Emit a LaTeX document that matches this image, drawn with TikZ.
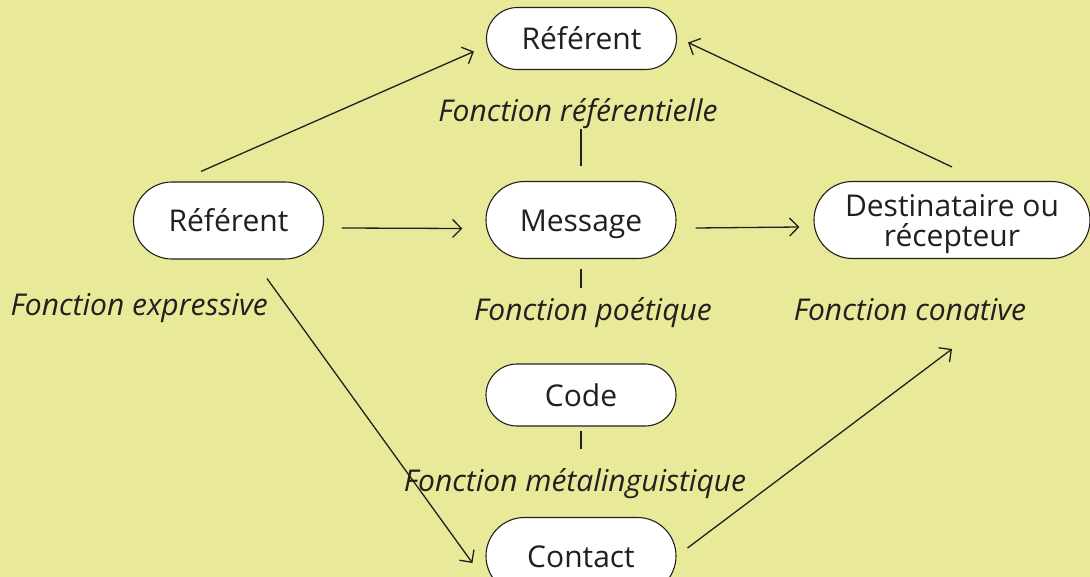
\documentclass[tikz,border=0pt]{standalone}
\usepackage{fontspec}
\setmainfont{Open Sans}
\usepackage{tikz}
\usetikzlibrary{shapes.misc,arrows.meta}
\definecolor{fond}{RGB}{232,234,154}
\definecolor{encre}{RGB}{35,31,32}

\begin{document}
\begin{tikzpicture}[x=1pt, y=-1pt,
	color=encre, line width=1.3pt,
	font=\fontsize{30}{30}\selectfont,
	>={Straight Barb[length=9pt,width=18pt]},
	bulle/.style={draw, line width=1.1pt, fill=white, rounded rectangle,
		minimum width=190pt, minimum height=77pt, inner sep=0pt,
		text height=30pt, text depth=7pt},
	petite/.style={bulle, minimum height=62pt},
	fonction/.style={anchor=base, inner sep=0pt, font=\fontsize{30}{30}\selectfont\itshape}]
  \fill[fond] (0,0) rectangle (1090,577);
  \useasboundingbox (0,0) rectangle (1090,577);

  \node[petite] (refhaut) at (581.5,38.5) {Référent};
  \node[bulle] (emetteur) at (228.5,220.5) {Référent};
  \node[bulle] (message) at (581,220) {Message};
  \node[bulle, minimum width=276pt, align=center, text height=60pt] (destinataire) at (952,220) {Destinataire ou\\récepteur};
  \node[petite] (code) at (581,395) {Code};
  \node[bulle] (contact) at (581,556) {Contact};

  \node[fonction] (fref) at (578,122) {Fonction référentielle};
  \node[fonction, anchor=base west] (fexpr) at (10,316) {Fonction expressive};
  \node[fonction] (fpoet) at (593,321) {Fonction poétique};
  \node[fonction] (fconat) at (910,321) {Fonction conative};
  \node[fonction] (fmeta) at (575,491) {Fonction métalinguistique};

  \draw (message.north) ++(0,-15) -- ++(0,-37);
  \draw (message.south) ++(0,10) -- ++(0,19);
  \draw (code.south) ++(0,4) -- ++(0,18);

  \draw[->] ([xshift=-27.5pt,yshift=10pt]emetteur.north) -- ([xshift=-12pt,yshift=-13pt]refhaut.west);
  \draw[->] ([yshift=14pt]destinataire.north) -- ([xshift=11pt,yshift=-4pt]refhaut.east);
  \draw[->] ([xshift=17.5pt,yshift=-7.5pt]emetteur.east) -- ([xshift=-23pt,yshift=-8.5pt]message.west);
  \draw[->] ([xshift=19pt,yshift=-8pt]message.east) -- ([xshift=-14pt,yshift=-7pt]destinataire.west);
  \draw[->] ([xshift=38.5pt,yshift=-19pt]emetteur.south) -- ([xshift=-13pt,yshift=-7pt]contact.west);
  \draw[->] ([xshift=11pt,yshift=8pt]contact.east) -- ([xshift=42pt,yshift=-28pt]fconat.base);
\end{tikzpicture}
\end{document}
